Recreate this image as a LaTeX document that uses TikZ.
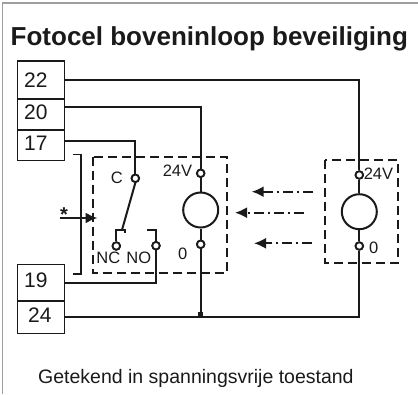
\documentclass[tikz,border=0pt]{standalone}
\usepackage{fontspec}
\setmainfont{Liberation Sans}
\usetikzlibrary{arrows.meta}
\definecolor{ink}{HTML}{1A1A1A}
\begin{document}
\begin{tikzpicture}[x=1pt,y=-1pt,
  wire/.style={line width=2pt, draw=ink},
  dbox/.style={line width=2pt, draw=ink, dash pattern=on 9pt off 5pt},
  ddarr/.style={line width=2pt, draw=ink, dash pattern=on 10pt off 4pt on 2pt off 4pt, -{Latex[length=12pt,width=11pt]}},
  term/.style={draw=ink, line width=1.4pt, minimum width=47pt, inner sep=0pt, text width=33pt, align=left, text height=15pt, text depth=5pt, text=ink, font=\fontsize{21}{21}\selectfont},
  tcirc/.style={circle, draw=ink, line width=1.8pt, fill=white, minimum size=7.5pt, inner sep=0pt},
  lamp/.style={circle, draw=ink, line width=2pt, fill=white, minimum size=35pt, inner sep=0pt},
  lbl/.style={inner sep=0pt, text=ink, font=\fontsize{16.5}{16.5}\selectfont}]
\useasboundingbox (0,0) rectangle (418,394);
\draw[gray!75, line width=1.2pt] (2.6,394) -- (2.6,3) -- (418,3);

\node[anchor=base west, inner sep=0pt, text=ink, font=\bfseries\fontsize{26}{26}\selectfont] (title) at (10.5,45.7) {Fotocel boveninloop beveiliging};
\node[anchor=base west, inner sep=0pt, text=ink, font=\fontsize{19.5}{19.5}\selectfont] (note) at (38,383.3) {Getekend in spanningsvrije toestand};

% dashed component boxes
\draw[dbox] (92.7,156.7) rectangle (226.7,272.7);
\draw[dbox] (325,160) rectangle (398.3,262.7);

% terminal strip
\node[term, minimum height=38pt, text depth=0pt] (t22) at (40.7,80) {22};
\node[term, minimum height=31pt] (t20) at (40.7,114.5) {20};
\node[term, minimum height=30.7pt] (t17) at (40.7,145.3) {17};
\node[term, minimum height=36.7pt] (t19) at (40.7,282.7) {19};
\node[term, minimum height=32.3pt] (t24) at (40.7,317.2) {\hspace*{4pt}24};

% receiver (left)
\node[tcirc] (r24) at (200.7,173.3) {};
\node[lamp] (rl) at (200.7,210) {};
\node[tcirc] (r0) at (200.7,244.3) {};
% transmitter (right)
\node[tcirc] (s24) at (359.3,175) {};
\node[lamp] (sl) at (359.3,211.7) {};
\node[tcirc] (s0) at (359.3,246) {};
% relay contact
\node[tcirc] (cC) at (135.3,178.3) {};
\node[tcirc] (cNC) at (116.3,246) {};
\node[tcirc] (cNO) at (156,245.7) {};

% wiring
\draw[wire] (t22.east) -| (s24.north);
\draw[wire] ([yshift=-9pt]t20.north east) -| (r24.north);
\draw[wire] ([yshift=-12pt]t17.north east) -| (cC.north);
\draw[wire] (t19.east) -| (cNO.south);
\draw[wire] (t24.east) -| (s0.south);
\draw[wire] (r24.south) -- (rl.north);
\draw[wire] (rl.south) -- (r0.north);
\coordinate (jn) at (r0 |- t24.east);
\draw[wire] (r0.south) -- (jn);
\fill[ink] ([xshift=-2.5pt]jn) rectangle ++(5,-5);
\draw[wire] (s24.south) -- (sl.north);
\draw[wire] (sl.south) -- (s0.north);

% switch blade and contacts
\coordinate (bl) at (122,230);
\draw[wire] (cC.south) -- (bl);
\draw[wire] (cNC.north) |- (124.5,230) -- (124.5,233);
\draw[wire] (cNO.north) |- (147,230);

% redraw terminals on top
\node[tcirc] at (r24) {};
\node[tcirc] at (r0) {};
\node[tcirc] at (s24) {};
\node[tcirc] at (s0) {};
\node[tcirc] at (cC) {};
\node[tcirc] at (cNC) {};
\node[tcirc] at (cNO) {};

% bracket, star and arrow
\draw[wire, line width=1.6pt] (72.7,154.3) -- (81,154.3) -- (81,274) -- (72.7,274);
\node[lbl, anchor=base, font=\bfseries\fontsize{20}{20}\selectfont] (star) at (64,221.6) {*};
\coordinate (sa) at (60,218);
\coordinate (sb) at (97.5,218);
\draw[wire, -{Latex[length=12pt,width=11pt]}] (sa) -- (sb);

% light beams
\coordinate (b1s) at (313.3,191.7); \coordinate (b1e) at (251.7,191.7);
\coordinate (b2s) at (304,212.7);   \coordinate (b2e) at (235,212.7);
\coordinate (b3s) at (312.3,243.3); \coordinate (b3e) at (254,243.3);
\draw[ddarr] (b1s) -- (b1e);
\draw[ddarr] (b2s) -- (b2e);
\draw[ddarr] (b3s) -- (b3e);

% labels
\node[lbl] (lC) at (116.8,178.3) {C};
\node[lbl] (lNC) at (108.3,257.8) {NC};
\node[lbl] (lNO) at (138.8,257.8) {NO};
\node[lbl] (l24a) at (177.5,170.5) {24V};
\node[lbl] (l0a) at (182.8,253.8) {0};
\node[lbl] (l24b) at (378.5,173.3) {24V};
\node[lbl] (l0b) at (373.8,247.8) {0};
\end{tikzpicture}
\end{document}
